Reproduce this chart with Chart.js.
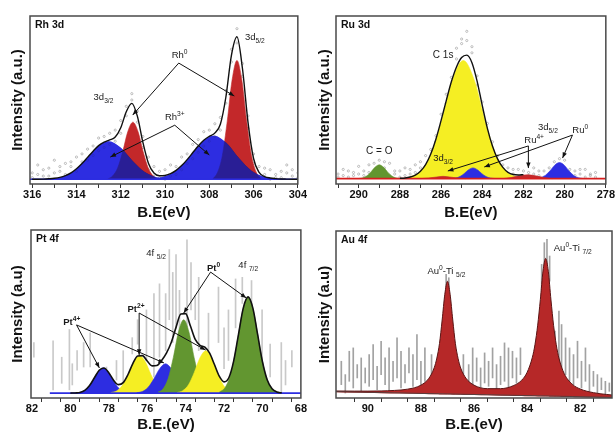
<!DOCTYPE html>
<html>
<head>
<meta charset="utf-8">
<script src="https://cdn.jsdelivr.net/npm/chart.js@4.4.0/dist/chart.umd.min.js"></script>
<style>
  html, body { margin: 0; padding: 0; background: #fff; }
  body { width: 615px; height: 434px; position: relative; overflow: hidden; }
  canvas { position: absolute; }
</style>
</head>
<body>
<canvas id="rh" width="307" height="222" style="left:0;top:0"></canvas>
<canvas id="ru" width="308" height="222" style="left:307px;top:0"></canvas>
<canvas id="pt" width="307" height="212" style="left:0;top:222px"></canvas>
<canvas id="au" width="308" height="212" style="left:307px;top:222px"></canvas>
<script>
const FONT = '"Liberation Sans", Arial, sans-serif';

// ---- Rh 3d ----
const rhGrid = [316,315.75,315.5,315.25,315,314.75,314.5,314.25,314,313.75,313.5,313.25,313,312.75,312.5,312.25,312,311.75,311.5,311.25,311,310.75,310.5,310.25,310,309.75,309.5,309.25,309,308.75,308.5,308.25,308,307.75,307.5,307.25,307,306.75,306.5,306.25,306,305.75,305.5,305.25,305,304.75,304.5,304.25,304];
const rhEnvelope = [0,0,0.1,0.3,0.6,1.2,2.3,4.0,6.6,9.9,13.8,17.7,21.2,23.4,24.8,26.6,32.5,42.6,47.9,39.8,23.3,10.1,3.9,2.2,2.4,3.5,5.6,8.6,12.4,16.7,21.0,24.6,27.1,29.1,34.7,51.9,78.2,89.9,69.7,35.9,13.1,4.3,1.7,0.8,0.4,0.2,0.1,0,0];
const rhCountsA = [4,9,2,7,12,5,10,8,14,11,19,15,26,20,29,24,37,40,54,43,27,14,8,1,6,9,3,14,10,22,17,30,24,35,31,56,74,95,73,40,10,8,3,6,1,5,9,2,4];
const rhCountsB = [1,3,6,2,4,8,3,11,5,16,12,21,18,27,22,31,29,46,50,36,20,6,2,5,0,2,8,6,16,13,25,21,31,27,39,48,82,86,65,32,16,2,7,0,3,1,4,6,1];
const rhRh0aX = [307.85,307.63,307.41,307.19,306.97,306.75,306.53,306.31,306.09,305.87,305.65];
const rhRh0aY = [0,4.2,14.9,36.5,62.6,75,62.6,36.5,14.9,4.2,0];
const rhRh0bX = [312.6,312.37,312.14,311.91,311.68,311.45,311.22,310.99,310.76,310.53,310.3];
const rhRh0bY = [0,2.0,7.1,17.5,30.1,36,30.1,17.5,7.1,2.0,0];
const rhRh3aX = [310.65,310.08,309.51,308.94,308.37,307.8,307.23,306.66,306.09,305.52,304.95];
const rhRh3aY = [0.3,1.5,5.4,13.4,23.0,27.5,23.0,13.4,5.4,1.5,0.3];
const rhRh3bX = [315.25,314.71,314.17,313.63,313.09,312.55,312.01,311.47,310.93,310.39,309.85];
const rhRh3bY = [0.3,1.3,4.8,11.7,20.0,24,20.0,11.7,4.8,1.3,0.3];
const rhBaseX = [316.1, 304];
const rhBaseY = [0, 0];

// ---- Ru 3d ----
const ruGrid = [291,290.75,290.5,290.25,290,289.75,289.5,289.25,289,288.75,288.5,288.25,288,287.75,287.5,287.25,287,286.75,286.5,286.25,286,285.75,285.5,285.25,285,284.75,284.5,284.25,284,283.75,283.5,283.25,283,282.75,282.5,282.25,282,281.75,281.5,281.25,281,280.75,280.5,280.25,280,279.75,279.5,279.25,279,278.75,278.5];
const ruCountsA = [3,6,1,4,8,5,9,4,12,7,10,3,5,2,6,9,7,15,13,24,34,49,66,85,91,96,82,61,44,29,24,10,5,7,3,6,1,4,7,2,5,3,11,9,12,2,5,3,6,2,4];
const ruCountsB = [1,2,5,2,3,2,4,10,6,11,2,5,1,7,3,4,11,8,19,28,42,55,60,78,88,90,86,67,50,36,17,15,9,2,6,1,5,2,3,5,1,7,6,13,7,6,2,6,1,3,1];
const ruEnvGrid = [288,287.75,287.5,287.25,287,286.75,286.5,286.25,286,285.75,285.5,285.25,285,284.75,284.5,284.25,284,283.75,283.5,283.25,283,282.75,282.5,282.25,282];
const ruEnvelope = [0.2,0.4,1.05,2.3,4.8,9.1,16.0,25.7,37.8,50.7,63.1,72.8,78.9,80.5,75.6,63.6,47.7,32.8,21.1,12.7,7.3,4.1,2.7,2.4,2.6];
const ruC1sX = [287.57,287.04,286.51,285.98,285.45,284.92,284.39,283.86,283.33,282.8,282.27];
const ruC1sY = [0.8,4.3,15.2,37.5,64.3,77,64.3,37.5,15.2,4.3,0.8];
const ruCOX = [290.0,289.8,289.6,289.4,289.2,289.0,288.8,288.6,288.4,288.2,288.0];
const ruCOY = [0.1,0.5,1.8,4.4,7.5,9,7.5,4.4,1.8,0.5,0.1];
const ruRu0aX = [285.5,285.29,285.08,284.87,284.66,284.45,284.24,284.03,283.82,283.61,283.4];
const ruRu0aY = [0.1,0.4,1.4,3.4,5.8,7,5.8,3.4,1.4,0.4,0.1];
const ruRu0bX = [281.4,281.17,280.94,280.71,280.48,280.25,280.02,279.79,279.56,279.33,279.1];
const ruRu0bY = [0.1,0.6,2.1,5.1,8.8,10.5,8.8,5.1,2.1,0.6,0.1];
const ruRu4aX = [287.0,286.6,286.2,285.9,285.6,285.2,284.8];
const ruRu4aY = [0,0.4,1.1,1.5,1.1,0.4,0];
const ruRu4bX = [283.0,282.6,282.2,281.8,281.4,281.0,280.6];
const ruRu4bY = [0,0.7,1.8,2.5,1.8,0.7,0];
const ruBaseX = [291.1, 278];
const ruBaseY = [0, 0];

// ---- Pt 4f ----
const ptGrid = [80,79.75,79.5,79.25,79,78.75,78.5,78.25,78,77.75,77.5,77.25,77,76.75,76.5,76.25,76,75.75,75.5,75.25,75,74.75,74.5,74.25,74,73.75,73.5,73.25,73,72.75,72.5,72.25,72,71.75,71.5,71.25,71,70.75,70.5,70.25,70,69.75,69.5,69.25,69];
const ptEnvelope = [0,0.1,0.4,1.7,4.6,9.4,14.0,15.4,12.5,7.9,5.2,6.4,11.4,18.1,22.8,23.0,19.7,16.7,16.9,20.0,24.5,31.0,40.3,48.5,48.7,41.1,32.9,29.3,28.2,24.5,17.5,10.4,6.9,9.4,19.6,35.9,52.1,59,52.1,35.8,19.2,8.0,2.6,0.65,0.13];
const ptPt4aX = [79.65,79.38,79.11,78.84,78.57,78.3,78.03,77.76,77.49,77.22,76.95];
const ptPt4aY = [0.2,0.9,3.1,7.5,12.9,15.5,12.9,7.5,3.1,0.9,0.2];
const ptPt2aX = [77.9,77.6,77.3,77.0,76.7,76.4,76.1,75.8,75.5,75.2,74.9];
const ptPt2aY = [0.3,1.3,4.6,11.2,19.2,23,19.2,11.2,4.6,1.3,0.3];
const ptPt4bX = [76.55,76.25,75.95,75.65,75.35,75.05,74.75,74.45,74.15,73.85,73.55];
const ptPt4bY = [0.2,1.0,3.6,8.8,15.0,18,15.0,8.8,3.6,1.0,0.2];
const ptPt0aX = [75.45,75.18,74.91,74.64,74.37,74.1,73.83,73.56,73.29,73.02,72.75];
const ptPt0aY = [0.5,2.5,8.9,21.9,37.6,45,37.6,21.9,8.9,2.5,0.5];
const ptPt2bX = [74.45,74.15,73.85,73.55,73.25,72.95,72.65,72.35,72.05,71.75,71.45];
const ptPt2bY = [0.3,1.5,5.1,12.7,21.7,26,21.7,12.7,5.1,1.5,0.3];
const ptPt0bX = [72.25,71.95,71.65,71.35,71.05,70.75,70.45,70.15,69.85,69.55,69.25];
const ptPt0bY = [0.6,3.3,11.7,28.7,49.3,59,49.3,28.7,11.7,3.3,0.6];
const ptStreakX = [81.9,80.9,80.45,80.05,79.9,79.65,79.31,78.97,78.12,77.6,77.25,76.78,76.5,76.04,75.65,75.36,75.04,74.85,74.67,74.5,74.32,73.93,73.72,73.5,73.32,72.81,72.29,72.0,71.77,71.4,71.05,70.57,70.02,69.6,69.02,68.8,68.47];
const ptStreakLo = [22,2,6,2,5,14,16,16,2,8,2,24,30,20,10,22,26,45,31,40,26,6,51,45,26,26,31,15,20,40,55,51,6,10,0,5,16];
const ptStreakHi = [31,32,22,39,18,26,31,37,16,20,26,34,45,51,61,67,61,88,74,85,63,94,80,60,71,49,65,40,51,70,71,69,51,30,31,20,26];
const ptBaseX = [81.07, 68];
const ptBaseY = [0, 0];

// ---- Au 4f ----
const auGrid = [91.2,90.5,90.0,89.5,89.0,88.5,88.0,87.7,87.5,87.4,87.3,87.2,87.1,87.0,86.9,86.8,86.7,86.6,86.5,86.3,86.0,85.5,85.0,84.5,84.2,84.0,83.8,83.7,83.6,83.5,83.4,83.3,83.2,83.1,83.0,82.9,82.8,82.6,82.3,82.0,81.5,81.0,80.8];
const auBackground = [3.8,3.57,3.41,3.24,3.08,2.92,2.75,2.66,2.59,2.56,2.52,2.49,2.46,2.43,2.39,2.36,2.33,2.3,2.26,2.2,2.1,1.94,1.77,1.61,1.51,1.45,1.38,1.35,1.32,1.29,1.25,1.22,1.19,1.15,1.12,1.09,1.06,0.99,0.89,0.79,0.63,0.46,0.4];
const auFit = [4.2,4.12,4.12,4.22,4.53,5.3,7.69,11.8,18.1,23.9,32.7,46.7,62.1,69.9,62.1,46.7,32.5,23.7,17.9,11.8,7.7,5.6,5.6,7.5,10.7,15.3,24.4,32.2,43.6,58.9,76.0,83.6,75.9,58.7,43.3,31.9,23.9,14.6,8.3,5.4,3.2,2.1,1.8];
const auStreakX = [91.0,90.85,90.7,90.55,90.4,90.25,90.1,89.95,89.8,89.65,89.5,89.35,89.2,89.05,88.9,88.75,88.6,88.45,88.3,88.15,88.0,87.85,87.6,87.05,86.95,86.4,86.2,86.05,85.9,85.75,85.6,85.45,85.3,85.15,85.0,84.85,84.7,84.55,84.4,84.25,83.45,83.35,83.25,83.15,82.95,82.8,82.7,82.55,82.4,82.25,82.1,81.95,81.8,81.65,81.5,81.35,81.2,81.05,80.9];
const auStreakLo = [8,3,10,6,12,4,9,7,11,5,14,8,4,10,12,6,9,15,7,11,5,10,14,58,55,12,8,6,10,4,9,7,12,5,8,10,6,12,9,14,65,78,80,70,24,20,18,14,10,8,12,6,10,4,7,3,5,2,4];
const auStreakHi = [22,14,28,30,20,24,18,26,32,19,34,24,30,22,36,28,20,30,26,38,22,30,26,74,72,26,20,30,24,18,27,22,30,20,25,33,30,28,24,30,80,93,95,85,40,52,44,36,30,26,34,22,30,20,16,14,12,10,9];

// labels and arrows, in data units
const NOTES = {
  rh: {name: 'Rh 3d',
    labels: [
      {x: 305.94, y: 89.7, parts: [['3d', 0], ['5/2', -1]]},
      {x: 309.34, y: 78.4, parts: [['Rh', 0], ['0', 1]]},
      {x: 309.56, y: 39.2, parts: [['Rh', 0], ['3+', 1]]},
      {x: 312.78, y: 51.9, parts: [['3d', 0], ['3/2', -1]]}
    ],
    arrows: [[309.38, 73.3, 311.46, 40.5], [309.38, 73.3, 306.87, 52.5], [309.56, 34.1, 312.47, 14], [309.56, 34.1, 308.0, 15.3]]},
  ru: {name: 'Ru 3d',
    labels: [
      {x: 285.9, y: 80.6, parts: [['C 1s', 0]], size: 10},
      {x: 289.0, y: 18.6, parts: [['C = O', 0]], size: 10},
      {x: 285.9, y: 13.4, parts: [['3d', 0], ['3/2', -1]]},
      {x: 281.48, y: 25.2, parts: [['Ru', 0], ['4+', 1]]},
      {x: 280.81, y: 33.6, parts: [['3d', 0], ['5/2', -1]]},
      {x: 279.24, y: 31.7, parts: [['Ru', 0], ['0', 1]]}
    ],
    arrows: [[281.76, 21.3, 285.67, 5.0], [281.76, 21.3, 281.76, 6.9], [279.62, 28.4, 283.9, 7.6], [279.62, 28.4, 280.1, 13.4]]},
  pt: {name: 'Pt 4f',
    labels: [
      {x: 75.54, y: 85.8, parts: [['4f ', 0], ['5/2', -1]]},
      {x: 72.55, y: 76.7, parts: [['Pt', 0], ['0', 1]], bold: true},
      {x: 70.74, y: 78.5, parts: [['4f ', 0], ['7/2', -1]]},
      {x: 76.58, y: 51.5, parts: [['Pt', 0], ['2+', 1]], bold: true},
      {x: 79.93, y: 43.6, parts: [['Pt', 0], ['4+', 1]], bold: true}
    ],
    arrows: [[79.68, 41.8, 78.49, 15.4], [79.68, 41.8, 75.13, 18.5], [76.42, 49.1, 76.42, 23.4], [76.42, 49.1, 72.96, 26.4], [72.7, 74.2, 74.1, 49.1], [72.7, 74.2, 70.84, 58.3]]},
  au: {name: 'Au 4f',
    labels: [
      {x: 87.04, y: 76, parts: [['Au', 0], ['0', 1], ['-Ti ', 0], ['5/2', -1]]},
      {x: 82.28, y: 89.8, parts: [['Au', 0], ['0', 1], ['-Ti ', 0], ['7/2', -1]]}
    ],
    arrows: []}
};

const BLUE = 'rgb(45,45,225)';
const RED = 'rgb(195,40,42)';
const YELLOW = 'rgb(245,238,35)';
const GREEN = 'rgb(98,150,48)';

const pts = (xs, ys) => xs.map((x, i) => ({x: x, y: ys[i]}));

function peak(xs, ys, color, extra) {
  return Object.assign({
    type: 'line', data: pts(xs, ys), backgroundColor: color, borderColor: color,
    borderWidth: 0.6, fill: {value: 0}, pointRadius: 0, tension: 0.4, cubicInterpolationMode: 'monotone'
  }, extra || {});
}
function curve(xs, ys, color, width, extra) {
  return Object.assign({
    type: 'line', data: pts(xs, ys), borderColor: color, borderWidth: width,
    fill: false, pointRadius: 0, tension: 0.4, cubicInterpolationMode: 'monotone'
  }, extra || {});
}
function dots(xs, ys) {
  return {type: 'line', data: pts(xs, ys), showLine: false, pointRadius: 1.1, pointBorderWidth: 0.6,
    pointBorderColor: 'rgba(90,90,90,0.6)', pointBackgroundColor: 'rgba(255,255,255,0)'};
}
function streaks(xs, lo, hi, color) {
  return {type: 'bar', data: xs.map((x, i) => ({x: x, y: [lo[i], hi[i]]})),
    backgroundColor: color, barThickness: 1, borderWidth: 0, grouped: false};
}

function arrow(ctx, x1, y1, x2, y2) {
  ctx.strokeStyle = '#111';
  ctx.fillStyle = '#111';
  ctx.lineWidth = 1;
  ctx.beginPath(); ctx.moveTo(x1, y1); ctx.lineTo(x2, y2); ctx.stroke();
  const a = Math.atan2(y2 - y1, x2 - x1), h = 6;
  ctx.beginPath();
  ctx.moveTo(x2, y2);
  ctx.lineTo(x2 - h * Math.cos(a - 0.38), y2 - h * Math.sin(a - 0.38));
  ctx.lineTo(x2 - h * Math.cos(a + 0.38), y2 - h * Math.sin(a + 0.38));
  ctx.closePath(); ctx.fill();
}

function rich(ctx, parts, x, y, size, bold) {
  const fontOf = m => (bold ? 'bold ' : '') + (m ? size * 0.7 : size) + 'px ' + FONT;
  let total = 0;
  parts.forEach(p => { ctx.font = fontOf(p[1]); total += ctx.measureText(p[0]).width; });
  let cx = x - total / 2;
  const base = y + size * 0.35;
  ctx.textAlign = 'left';
  ctx.textBaseline = 'alphabetic';
  ctx.fillStyle = '#1a1a1a';
  parts.forEach(p => {
    ctx.font = fontOf(p[1]);
    const dy = p[1] === 1 ? -size * 0.42 : (p[1] === -1 ? size * 0.3 : 0);
    ctx.fillText(p[0], cx, base + dy);
    cx += ctx.measureText(p[0]).width;
  });
}

// draws frame, panel name, labels; also switches blend mode for datasets marked with "blend"
const decor = {
  id: 'decor',
  afterDatasetDraw(chart, args) {
    const list = chart.data.datasets;
    chart.ctx.globalCompositeOperation = 'source-over';
    const next = list[args.index + 1];
    if (next && next.blend) chart.ctx.globalCompositeOperation = next.blend;
  },
  afterDatasetsDraw(chart) {
    const {ctx, chartArea: a, scales} = chart;
    const note = NOTES[chart.canvas.id];
    const px = v => scales.x.getPixelForValue(v);
    const py = v => scales.y.getPixelForValue(v);
    ctx.save();
    ctx.globalCompositeOperation = 'source-over';
    ctx.strokeStyle = '#4a4a4a';
    ctx.lineWidth = 1.5;
    ctx.strokeRect(a.left, a.top, a.right - a.left, a.bottom - a.top);
    ctx.fillStyle = '#111';
    ctx.font = 'bold 10.5px ' + FONT;
    ctx.textAlign = 'left';
    ctx.textBaseline = 'middle';
    ctx.fillText(note.name, a.left + 5, a.top + 9);
    note.arrows.forEach(r => arrow(ctx, px(r[0]), py(r[1]), px(r[2]), py(r[3])));
    note.labels.forEach(l => rich(ctx, l.parts, px(l.x), py(l.y), l.size || 9.5, l.bold));
    ctx.restore();
  }
};

function makeChart(id, cfg) {
  const sets = cfg.datasets;
  sets.forEach((d, i) => { d.order = sets.length - i; });
  return new Chart(document.getElementById(id), {
    type: 'line',
    data: {datasets: sets},
    plugins: [decor],
    options: {
      responsive: false,
      animation: false,
      events: [],
      layout: {padding: cfg.pad},
      plugins: {legend: {display: false}, tooltip: {enabled: false}},
      scales: {
        x: {
          type: 'linear', reverse: true, min: cfg.xmin, max: cfg.xmax, offset: false,
          ticks: {
            stepSize: 1, includeBounds: false, autoSkip: false, maxRotation: 0, padding: 0,
            color: '#111', font: {family: FONT, size: 11, weight: 'bold'},
            callback: v => (Math.abs(v % 2) < 1e-6 ? String(Math.round(v)) : '')
          },
          grid: {drawOnChartArea: false, drawTicks: true, tickLength: 4, color: '#333', lineWidth: 1},
          border: {display: false},
          title: {display: true, text: cfg.xTitle, color: '#111',
            font: {family: FONT, size: 15, weight: 'bold', lineHeight: 1.2}, padding: {top: 0, bottom: 0}},
          afterFit: s => { s.height = cfg.xh; }
        },
        y: {
          min: cfg.ymin, max: cfg.ymax,
          ticks: {display: false},
          grid: {display: false},
          border: {display: false},
          title: {display: true, text: cfg.yTitle, color: '#111',
            font: {family: FONT, size: 15, weight: 'bold', lineHeight: 1.2}, padding: {top: 8.5, bottom: 0}},
          afterFit: s => { s.width = cfg.yw; }
        }
      }
    }
  });
}

makeChart('rh', {
  xmin: 304, xmax: 316.1, ymin: -3, ymax: 103, xh: 38, yw: 30,
  pad: {left: 0, right: 2, top: 16, bottom: 0},
  xTitle: 'B.E(eV)', yTitle: 'Intensity (a.u.)',
  datasets: [
    dots(rhGrid, rhCountsA),
    dots(rhGrid, rhCountsB),
    peak(rhRh0aX, rhRh0aY, RED),
    peak(rhRh0bX, rhRh0bY, RED),
    peak(rhRh3aX, rhRh3aY, BLUE, {blend: 'multiply', borderWidth: 0}),
    peak(rhRh3bX, rhRh3bY, BLUE, {blend: 'multiply', borderWidth: 0}),
    peak(rhRh3aX, rhRh3aY, 'rgba(45,45,225,0.6)', {borderWidth: 0}),
    peak(rhRh3bX, rhRh3bY, 'rgba(45,45,225,0.6)', {borderWidth: 0}),
    curve(rhBaseX, rhBaseY, BLUE, 1.6),
    curve(rhGrid, rhEnvelope, '#111', 1.4)
  ]
});

makeChart('ru', {
  xmin: 278, xmax: 291.1, ymin: -3.5, ymax: 106, xh: 38, yw: 29,
  pad: {left: 0, right: 4, top: 16, bottom: 0},
  xTitle: 'B.E(eV)', yTitle: 'Intensity (a.u.)',
  datasets: [
    dots(ruGrid, ruCountsA),
    dots(ruGrid, ruCountsB),
    peak(ruCOX, ruCOY, GREEN),
    peak(ruC1sX, ruC1sY, YELLOW),
    peak(ruRu0aX, ruRu0aY, BLUE),
    peak(ruRu0bX, ruRu0bY, BLUE),
    peak(ruRu4aX, ruRu4aY, RED),
    peak(ruRu4bX, ruRu4bY, RED),
    curve(ruBaseX, ruBaseY, 'rgb(215,30,30)', 1.6),
    curve(ruEnvGrid, ruEnvelope, '#111', 1.4)
  ]
});

makeChart('pt', {
  xmin: 68, xmax: 82.05, ymin: -3, ymax: 100, xh: 36, yw: 31,
  pad: {left: 0, right: 4, top: 8, bottom: 0},
  xTitle: 'B.E.(eV)', yTitle: 'Intensity (a.u)',
  datasets: [
    streaks(ptStreakX, ptStreakLo, ptStreakHi, 'rgba(120,120,120,0.4)'),
    peak(ptPt4aX, ptPt4aY, BLUE),
    peak(ptPt2aX, ptPt2aY, YELLOW),
    peak(ptPt4bX, ptPt4bY, BLUE),
    peak(ptPt0aX, ptPt0aY, GREEN),
    peak(ptPt2bX, ptPt2bY, YELLOW),
    peak(ptPt0bX, ptPt0bY, GREEN),
    curve(ptBaseX, ptBaseY, BLUE, 1.6),
    curve(ptGrid, ptEnvelope, '#111', 1.6)
  ]
});

makeChart('au', {
  xmin: 80.8, xmax: 91.2, ymin: 0, ymax: 100, xh: 36, yw: 29,
  pad: {left: 0, right: 3, top: 9, bottom: 0},
  xTitle: 'B.E.(eV)', yTitle: 'Intensity (a.u)',
  datasets: [
    streaks(auStreakX, auStreakLo, auStreakHi, 'rgba(70,70,70,0.5)'),
    curve(auGrid, auBackground, 'rgb(170,30,30)', 1.2),
    curve(auGrid, auFit, 'rgb(90,20,20)', 1, {fill: '-1', backgroundColor: 'rgb(182,40,40)'}),
    curve(auGrid, auBackground, '#444', 0.8)
  ]
});
</script>
</body>
</html>
